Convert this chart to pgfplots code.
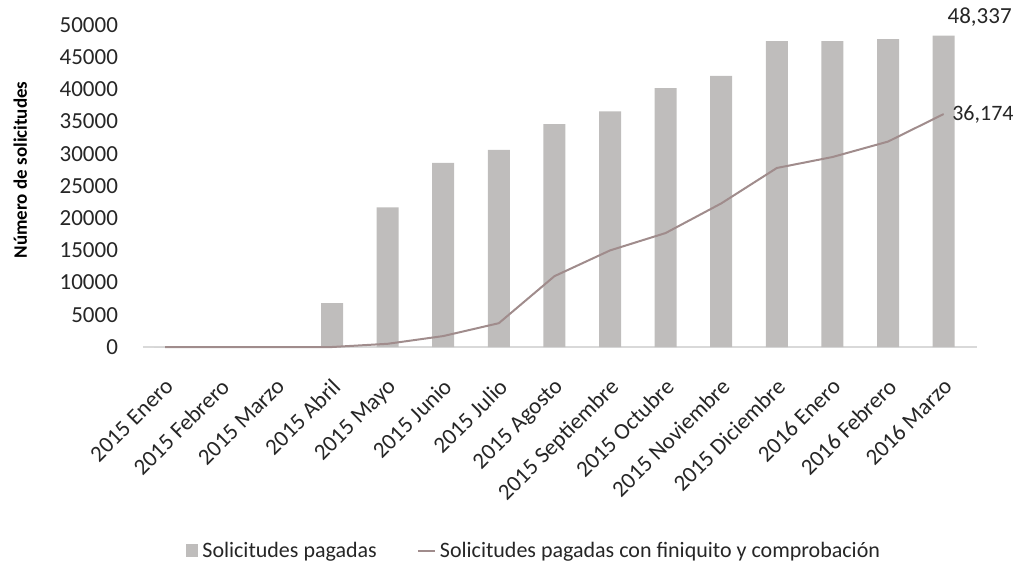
\documentclass[border=0pt]{standalone}
\usepackage{fontspec}
\setmainfont{Carlito}
\usepackage{pgfplots}
\pgfplotsset{compat=1.18}
\definecolor{barcol}{RGB}{191,189,188}
\definecolor{linecol}{RGB}{160,140,140}
\definecolor{axcol}{RGB}{217,217,217}
\begin{document}
\begin{tikzpicture}
\path[use as bounding box] (-71.5pt,-114pt) rectangle (436.5pt,173.5pt);
\begin{axis}[
    at={(0,0)}, anchor=south west,
    scale only axis,
    width=417pt, height=161pt,
    xmin=-0.4, xmax=14.6,
    ymin=0, ymax=50000,
    axis x line*=bottom,
    axis y line*=left,
    x axis line style={axcol, line width=0.8pt},
    y axis line style={draw=none},
    xtick={0,...,14},
    xticklabels={2015 Enero,2015 Febrero,2015 Marzo,2015 Abril,2015 Mayo,2015 Junio,2015 Julio,2015 Agosto,2015 Septiembre,2015 Octubre,2015 Noviembre,2015 Diciembre,2016 Enero,2016 Febrero,2016 Marzo},
    x tick label style={rotate=45, anchor=north east, font=\fontsize{11.5}{13}\selectfont, color=black!85, inner sep=1pt, xshift=-10pt, yshift=-9pt},
    major tick length=0pt,
    scaled y ticks=false,
    ytick={0,5000,...,50000},
    yticklabels={0,5000,10000,15000,20000,25000,30000,35000,40000,45000,50000},
    y tick label style={font=\fontsize{11.5}{13}\selectfont, color=black!85, xshift=-9pt},
    ylabel={\bfseries Número de solicitudes},
    ylabel style={font=\fontsize{9.5}{11}\selectfont, at={(axis description cs:-0.147,0.55)}, anchor=center},
    clip=false,
    legend columns=2,
    legend style={draw=none, at={(0.47,0)}, anchor=center, yshift=-102pt,
        font=\fontsize{11}{13}\selectfont, text=black!85,
        /tikz/every even column/.append style={column sep=18pt}},
    legend cell align=left,
]
\addplot[ybar, bar width=11pt, fill=barcol, draw=none,
    legend image code/.code={\fill[barcol] (0cm,-0.1cm) rectangle (0.22cm,0.12cm);},
    point meta=explicit symbolic,
    nodes near coords, every node near coord/.append style={font=\fontsize{11.5}{13}\selectfont, color=black!85, anchor=south, xshift=18pt, yshift=1pt}]
    coordinates {
    (0,0) [] (1,0) [] (2,0) [] (3,6800) [] (4,21700) [] (5,28600) [] (6,30600)
    [] (7,34600) [] (8,36600) [] (9,40200) [] (10,42100) [] (11,47500)
    [] (12,47500) [] (13,47800) [] (14,48337) [48,337]
    };
\addlegendentry{Solicitudes pagadas}
\addplot[linecol, line width=1pt, mark=none,
    legend image code/.code={\draw[linecol, line width=1pt] (0cm,0cm) -- (0.3cm,0cm);},
    point meta=explicit symbolic,
    nodes near coords, every node near coord/.append style={font=\fontsize{11}{13}\selectfont, color=black!85, anchor=west, xshift=0.5pt}]
    coordinates {
    (0,0) [] (1,0) [] (2,0) [] (3,0) [] (4,500) [] (5,1700) [] (6,3700)
    [] (7,11000) [] (8,15000) [] (9,17700) [] (10,22300) [] (11,27800)
    [] (12,29500) [] (13,31900) [] (14,36174) [36,174]
    };
\addlegendentry{Solicitudes pagadas con finiquito y comprobación}
\end{axis}
\end{tikzpicture}
\end{document}
